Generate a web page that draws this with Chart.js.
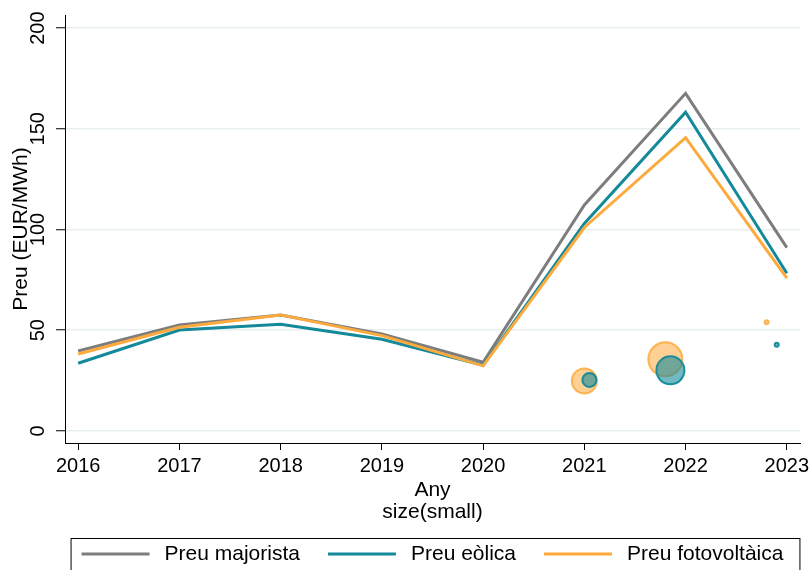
<!DOCTYPE html>
<html>
<head>
<meta charset="utf-8">
<script src="https://cdn.jsdelivr.net/npm/chart.js@4.4.1/dist/chart.umd.min.js"></script>
<style>
  html, body { margin: 0; padding: 0; background: #fff; }
</style>
</head>
<body>
<canvas id="preuChart" width="810" height="570"></canvas>
<script>
// Data
const years = [2016, 2017, 2018, 2019, 2020, 2021, 2022, 2023];
const preuMajorista = [39.7, 52.6, 57.6, 48.1, 34.1, 112.2, 167.6, 91.0];
const preuEolica = [33.6, 50.1, 53.0, 45.5, 32.6, 103.0, 158.2, 78.3];
const preuFotovoltaica = [38.2, 51.5, 57.6, 47.3, 32.3, 101.0, 145.6, 75.8];
const yTicks = [0, 50, 100, 150, 200];

// the scattered circles (position + size)
const bubbleFvX = [2021.0, 2021.8, 2022.8];
const bubbleFvY = [24.8, 35.6, 54.0];
const bubbleFvR = [12.5, 17, 2];
const bubbleEoX = [2021.05, 2021.85, 2022.9];
const bubbleEoY = [25.3, 30.1, 42.8];
const bubbleEoR = [7, 14, 2];

const GREY = '#7d7d7d';
const TEAL = '#13899a';
const ORANGE = '#fdaa3d';

function pts(xs, ys) { return xs.map((x, i) => ({ x: x, y: ys[i] })); }
function bubbles(xs, ys, rs) { return xs.map((x, i) => ({ x: x, y: ys[i], r: rs[i] })); }

Chart.defaults.font.family = '"Liberation Sans", Arial, sans-serif';
Chart.defaults.color = '#000';

// Stata-like framed legend at the bottom
const legendBox = {
  id: 'legendBox',
  afterDraw(chart) {
    const ctx = chart.ctx;
    const items = chart.data.datasets.filter(d => d.type === 'line');
    const lineLen = 68, gapText = 15, gapItem = 28;
    ctx.save();
    ctx.font = '21px "Liberation Sans", Arial, sans-serif';
    const widths = items.map(d => ctx.measureText(d.label).width);
    let total = widths.reduce((a, b) => a + b, 0) + items.length * (lineLen + gapText) + (items.length - 1) * gapItem;
    const area = chart.chartArea;
    let x = (area.left + area.right) / 2 - total / 2;
    const top = chart.height - 32;
    const cy = top + 16;
    ctx.strokeStyle = '#000';
    ctx.lineWidth = 1;
    ctx.strokeRect(x - 10.5, top + 0.5, total + 27, 40);
    ctx.textBaseline = 'middle';
    ctx.fillStyle = '#000';
    items.forEach((d, i) => {
      ctx.strokeStyle = d.borderColor;
      ctx.lineWidth = 3;
      ctx.beginPath();
      ctx.moveTo(x, cy);
      ctx.lineTo(x + lineLen, cy);
      ctx.stroke();
      x += lineLen + gapText;
      ctx.fillText(d.label, x, cy);
      x += widths[i] + gapItem;
    });
    ctx.restore();
  }
};

const ctx = document.getElementById('preuChart').getContext('2d');
const preuChart = new Chart(ctx, {
  data: {
    datasets: [
      {
        type: 'line', label: 'Preu majorista', data: pts(years, preuMajorista),
        borderColor: GREY, borderWidth: 3, pointRadius: 0, tension: 0, order: 3
      },
      {
        type: 'line', label: 'Preu eòlica', data: pts(years, preuEolica),
        borderColor: TEAL, borderWidth: 3, pointRadius: 0, tension: 0, order: 2
      },
      {
        type: 'line', label: 'Preu fotovoltàica', data: pts(years, preuFotovoltaica),
        borderColor: ORANGE, borderWidth: 3, pointRadius: 0, tension: 0, order: 1
      },
      {
        type: 'bubble', label: 'fv', data: bubbles(bubbleFvX, bubbleFvY, bubbleFvR),
        backgroundColor: 'rgba(253,170,61,0.55)', borderColor: 'rgba(253,170,61,0.85)',
        borderWidth: 2, order: 5
      },
      {
        type: 'bubble', label: 'eo', data: bubbles(bubbleEoX, bubbleEoY, bubbleEoR),
        backgroundColor: 'rgba(19,137,154,0.6)', borderColor: 'rgba(19,137,154,0.95)',
        borderWidth: 2, order: 4
      }
    ]
  },
  options: {
    responsive: false,
    animation: false,
    devicePixelRatio: 1,
    layout: { autoPadding: false, padding: { top: 15, right: 10, bottom: 32, left: 0 } },
    plugins: {
      legend: { display: false },
      tooltip: { enabled: false }
    },
    scales: {
      x: {
        type: 'linear',
        min: 2015.87,
        max: 2023.13,
        afterBuildTicks: (scale) => { scale.ticks = years.map(v => ({ value: v })); },
        afterFit: (scale) => {
          scale.height = 95;
          scale.paddingLeft = 0;
          scale.paddingRight = 0;
        },
        ticks: {
          font: { size: 20 },
          padding: 4,
          maxRotation: 0,
          callback: (v) => String(v)
        },
        grid: { drawOnChartArea: false, tickLength: 7, tickColor: '#000', tickWidth: 1 },
        border: { display: true, color: '#000', width: 1 },
        title: {
          display: true,
          text: ['Any', 'size(small)'],
          font: { size: 21, lineHeight: 1.05 },
          padding: { top: 0, bottom: 15 }
        }
      },
      y: {
        min: -6,
        max: 206.5,
        afterBuildTicks: (scale) => { scale.ticks = yTicks.map(v => ({ value: v })); },
        afterFit: (scale) => {
          scale.width = 65;
          scale.paddingTop = 0;
          scale.paddingBottom = 0;
        },
        ticks: {
          font: { size: 20 },
          minRotation: 90,
          maxRotation: 90,
          crossAlign: 'center',
          padding: 1
        },
        grid: { color: '#e8eff1', lineWidth: 1.5, tickLength: 9, tickColor: '#000', tickWidth: 1 },
        border: { display: true, color: '#000', width: 1 },
        title: {
          display: true,
          text: 'Preu (EUR/MWh)',
          font: { size: 21 },
          padding: { top: 9, bottom: 0 }
        }
      }
    }
  },
  plugins: [legendBox]
});
</script>
</body>
</html>
